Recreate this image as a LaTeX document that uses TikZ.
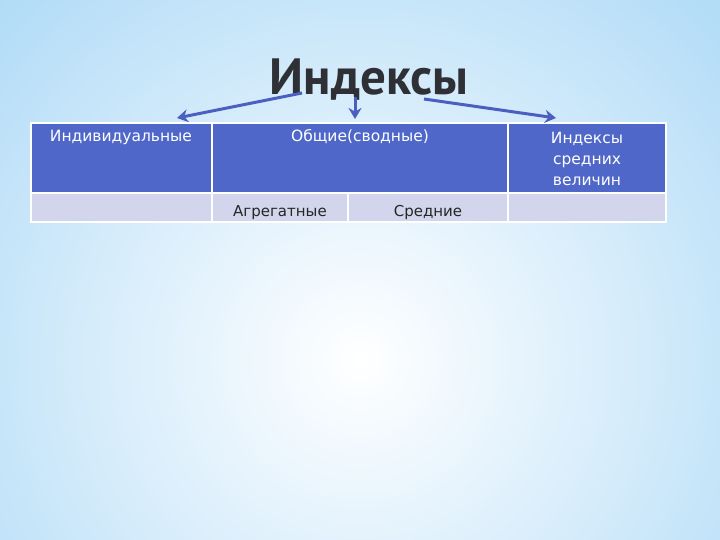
\documentclass[tikz,border=0pt]{standalone}
\usepackage{fontspec}
\setmainfont{DejaVu Sans}
\newfontfamily\titlefont{PT Sans}
\usetikzlibrary{arrows.meta}
\definecolor{bgblue}{HTML}{9DD2F5}
\definecolor{hdr}{HTML}{4F67C9}
\definecolor{rowb}{HTML}{D2D5EB}
\definecolor{arr}{HTML}{4A5FBF}
\definecolor{ttl}{HTML}{2E3036}
\tikzset{
  cellh/.style={fill=hdr, draw=white, line width=1.5pt},
  cellb/.style={fill=rowb, draw=white, line width=1.5pt},
  htext/.style={text=white, font=\fontsize{15.5}{21}\selectfont, align=center, inner sep=0pt},
  btext/.style={text=black!85, font=\fontsize{15}{15}\selectfont, inner sep=0pt, anchor=base},
  arrow/.style={draw=arr, line width=3pt, -{Stealth[length=11pt,width=13pt]}}
}
\begin{document}
\begin{tikzpicture}[x=1pt,y=-1pt]
\useasboundingbox (0,0) rectangle (720,540);
\begin{scope}
\clip (0,0) rectangle (720,540);
\fill[bgblue] (0,0) rectangle (720,540);
\shade[inner color=white, outer color=bgblue] (360,360) circle (640);
\end{scope}
% title
\node[text=ttl, font=\titlefont\bfseries\fontsize{51}{51}\selectfont, inner sep=0pt, anchor=base] (title) at (369,95) {Индексы};
% header row
\path[cellh] (31,123) rectangle (212,193);
\path[cellh] (212,123) rectangle (508,193);
\path[cellh] (508,123) rectangle (666,193);
% second row
\path[cellb] (31,193) rectangle (212,222);
\path[cellb] (212,193) rectangle (348,222);
\path[cellb] (348,193) rectangle (508,222);
\path[cellb] (508,193) rectangle (666,222);
\node[htext, anchor=base] (c1) at (121,142) {Индивидуальные};
\node[htext, anchor=base] (c2) at (360,142) {Общие(сводные)};
\node[htext] (c3) at (587,159) {Индексы\\средних\\величин};
\node[btext] (d1) at (280,216) {Агрегатные};
\node[btext] (d2) at (428,216) {Средние};
\coordinate (a1s) at (302,93);
\coordinate (a1e) at (177,118);
\coordinate (a2s) at (355,97);
\coordinate (a2e) at (355,119);
\coordinate (a3s) at (424,99);
\coordinate (a3e) at (556,118);
\draw[arrow] (a1s) -- (a1e);
\draw[arrow] (a2s) -- (a2e);
\draw[arrow] (a3s) -- (a3e);
\end{tikzpicture}
\end{document}
